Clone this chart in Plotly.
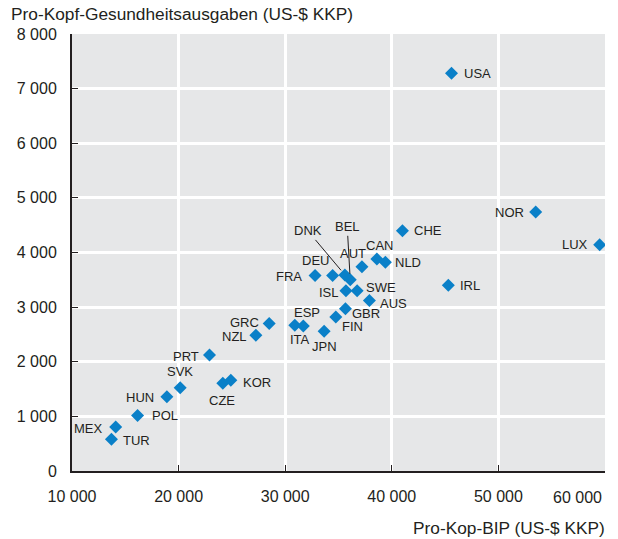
import plotly.graph_objects as go

# Data
codes = ["USA", "NOR", "LUX", "IRL", "CHE", "CAN", "NLD", "AUT", "DEU", "FRA",
         "DNK", "BEL", "ISL", "SWE", "AUS", "GBR", "FIN", "ESP", "ITA", "JPN",
         "GRC", "NZL", "PRT", "SVK", "CZE", "KOR", "HUN", "POL", "MEX", "TUR"]
gdp = [45600, 53500, 59500, 45300, 41000, 38600, 39400, 37200, 34450, 32800,
       35600, 36100, 35700, 36750, 37900, 35650, 34750, 30900, 31700, 33650,
       28500, 27250, 22900, 20150, 24150, 24900, 18900, 16150, 14100, 13700]
spend = [7280, 4740, 4140, 3400, 4400, 3880, 3820, 3740, 3580, 3580,
         3590, 3500, 3300, 3300, 3120, 2970, 2820, 2670, 2655, 2560,
         2700, 2485, 2125, 1525, 1605, 1660, 1360, 1015, 805, 580]

x_ticks = [10000, 20000, 30000, 40000, 50000, 60000]
x_ticktext = ["10 000", "20 000", "30 000", "40 000", "50 000", ""]
y_ticks = [0, 1000, 2000, 3000, 4000, 5000, 6000, 7000, 8000]
y_ticktext = ["0", "1 000", "2 000", "3 000", "4 000", "5 000", "6 000", "7 000", "8 000"]

# Label placement (anchor, xshift, yshift) in pixels
label_pos = {
    "USA": ("left", 10, 0), "NOR": ("right", -10, 0), "LUX": ("right", -10, 0),
    "IRL": ("left", 10, 0), "CHE": ("left", 10, 0), "CAN": ("center", 3, 14),
    "NLD": ("left", 8, 0), "AUT": ("center", -9, 13), "DEU": ("center", -17, 15),
    "FRA": ("right", -11, -1), "ISL": ("right", -5, -2), "SWE": ("left", 7, 3),
    "AUS": ("left", 9, -3), "GBR": ("center", 21, -5), "FIN": ("center", 17, -10),
    "ESP": ("center", 12, 13), "ITA": ("center", -3, -14), "JPN": ("center", 0, -15),
    "GRC": ("right", -8, 1), "NZL": ("right", -7, -1), "PRT": ("right", -9, -2),
    "SVK": ("center", 0, 16), "CZE": ("center", -1, -17), "KOR": ("left", 10, -2),
    "HUN": ("right", -11, -1), "POL": ("left", 12, 0), "MEX": ("right", -11, -1),
    "TUR": ("left", 10, -1),
}
# Labels with leader lines (ax, ay offsets of text from point)
leader_pos = {"DNK": (-37, -44), "BEL": (-3, -53)}

FONT = "Liberation Sans, Arial, sans-serif"
TXT = "#231f20"
BLUE = "#0a80c8"

fig = go.Figure()
fig.add_trace(go.Scatter(
    x=gdp, y=spend, mode="markers", text=codes,
    marker=dict(symbol="diamond", size=10, color=BLUE, line=dict(width=0)),
    hoverinfo="text+x+y", showlegend=False,
))

annotations = []
for c, gx, sy in zip(codes, gdp, spend):
    if c in label_pos:
        anc, dx, dy = label_pos[c]
        annotations.append(dict(x=gx, y=sy, xref="x", yref="y", text=c, showarrow=False,
                                xanchor=anc, yanchor="middle", xshift=dx, yshift=dy,
                                font=dict(family=FONT, size=13, color=TXT)))
    elif c in leader_pos:
        ax, ay = leader_pos[c]
        annotations.append(dict(x=gx, y=sy, xref="x", yref="y", text=c, showarrow=True,
                                arrowhead=0, arrowwidth=1, arrowcolor=TXT, ax=ax, ay=ay,
                                standoff=6, font=dict(family=FONT, size=13, color=TXT)))

annotations.append(dict(x=60000, y=0, xref="x", yref="y", text="60 000", showarrow=False,
                        xanchor="right", yanchor="top", xshift=-1, yshift=-16,
                        font=dict(family=FONT, size=16, color=TXT)))
annotations.append(dict(x=0, y=1, xref="paper", yref="paper", text="Pro-Kopf-Gesundheitsausgaben (US-$ KKP)",
                        showarrow=False, xanchor="left", yanchor="middle", xshift=-63, yshift=20,
                        font=dict(family=FONT, size=17.3, color=TXT)))
annotations.append(dict(x=1, y=0, xref="paper", yref="paper", text="Pro-Kop-BIP (US-$ KKP)",
                        showarrow=False, xanchor="right", yanchor="middle", xshift=2, yshift=-57,
                        font=dict(family=FONT, size=17.3, color=TXT)))

fig.update_layout(
    width=618, height=539,
    margin=dict(l=72, r=13, t=34, b=68),
    paper_bgcolor="white", plot_bgcolor="#e6e7e8",
    font=dict(family=FONT, size=16, color=TXT),
    annotations=annotations,
    xaxis=dict(range=[10000, 60000], tickvals=x_ticks, ticktext=x_ticktext,
               showgrid=True, gridcolor="white", gridwidth=3, zeroline=False,
               showline=True, linecolor=TXT, linewidth=2,
               ticks="inside", ticklen=6, tickcolor=TXT, tickwidth=1,
               tickfont=dict(family=FONT, size=16, color=TXT), ticklabelstandoff=10),
    yaxis=dict(range=[0, 8000], tickvals=y_ticks, ticktext=y_ticktext,
               showgrid=True, gridcolor="white", gridwidth=3, zeroline=False,
               showline=True, linecolor=TXT, linewidth=2,
               ticks="inside", ticklen=6, tickcolor=TXT, tickwidth=1,
               tickfont=dict(family=FONT, size=16, color=TXT), ticklabelstandoff=10),
)

fig.write_html("out.html", config={"displayModeBar": False},
               post_script="document.body.style.margin='0';document.body.style.overflow='hidden';")
